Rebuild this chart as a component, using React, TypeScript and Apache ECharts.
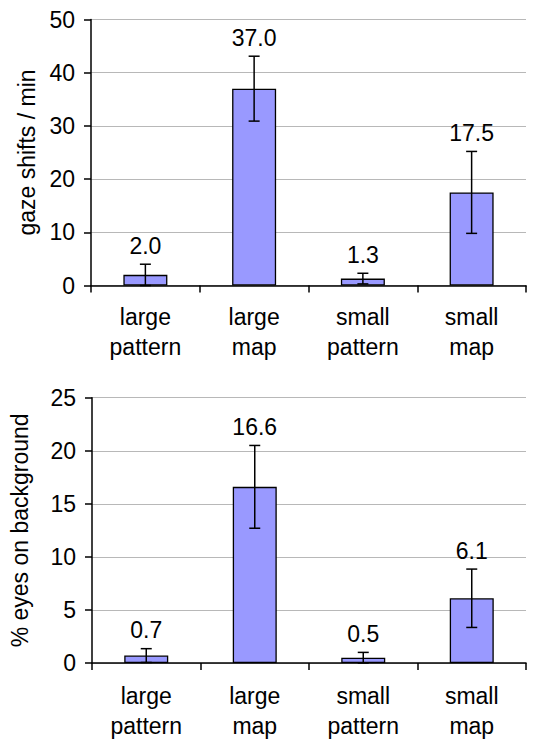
import React, { useEffect, useRef } from "react";
import * as echarts from "echarts";

const categories = ["large\npattern", "large\nmap", "small\npattern", "small\nmap"];
const gazeMeans = [2.0, 37.0, 1.3, 17.5];
const gazeErr = [2.0, 6.1, 1.0, 7.7];
const bgMeans = [0.7, 16.6, 0.5, 6.1];
const bgErr = [0.65, 3.9, 0.5, 2.75];
const gazeTicks = { min: 0, max: 50, interval: 10 };
const bgTicks = { min: 0, max: 25, interval: 5 };

const FONT = "Liberation Sans, Arial, sans-serif";
const FS = 23;

function errRender(params: any, api: any) {
  const x = api.value(0);
  const mean = api.value(1);
  const err = api.value(2);
  const top = api.coord([x, mean + err]);
  const bot = api.coord([x, Math.max(0, mean - err)]);
  const cap = 5.5;
  const ls = { stroke: "#000", lineWidth: 1.5 };
  return {
    type: "group",
    children: [
      { type: "line", shape: { x1: top[0], y1: top[1], x2: bot[0], y2: bot[1] }, style: ls },
      { type: "line", shape: { x1: top[0] - cap, y1: top[1], x2: top[0] + cap, y2: top[1] }, style: ls },
      { type: "line", shape: { x1: bot[0] - cap, y1: bot[1], x2: bot[0] + cap, y2: bot[1] }, style: ls },
      {
        type: "text",
        style: {
          text: mean.toFixed(1),
          x: top[0],
          y: top[1] - 7,
          align: "center",
          verticalAlign: "bottom",
          font: `${FS}px ${FONT}`,
          fill: "#000",
        },
      },
    ],
  };
}

export default function App() {
  const ref = useRef<HTMLDivElement>(null);
  useEffect(() => {
    if (!ref.current) return;
    const chart = echarts.init(ref.current, null, { renderer: "svg" });
    const yAxisBase = (name: string, ticks: any, gap: number) => ({
      type: "value",
      ...ticks,
      name,
      nameLocation: "middle",
      nameGap: gap,
      nameTextStyle: { fontSize: FS, color: "#000", fontFamily: FONT },
      axisLine: { show: true, lineStyle: { color: "#000", width: 1.5 } },
      axisTick: { show: true, length: 7, lineStyle: { color: "#000", width: 1.5 } },
      axisLabel: { fontSize: FS, color: "#000", fontFamily: FONT, margin: 16 },
      splitLine: { show: true, lineStyle: { color: "#b8b8b8", width: 1 } },
    });
    const xAxisBase = (gridIndex: number, margin: number, lh: number) => ({
      type: "category",
      gridIndex,
      data: categories,
      axisLine: { show: true, lineStyle: { color: "#000", width: 1.5 } },
      axisTick: { show: true, length: 7, lineStyle: { color: "#000", width: 1.5 } },
      axisLabel: { fontSize: FS, color: "#000", fontFamily: FONT, margin, lineHeight: lh, interval: 0 },
      splitLine: { show: false },
    });
    const barStyle = { color: "#9999ff", borderColor: "#000", borderWidth: 1.3 };
    chart.setOption({
      animation: false,
      backgroundColor: "#fff",
      grid: [
        { left: 91, right: 7, top: 19.5, bottom: 455.5 },
        { left: 91, right: 7, top: 397.7, bottom: 75 },
      ],
      xAxis: [xAxisBase(0, 16, 30), xAxisBase(1, 18, 30)],
      yAxis: [
        { ...yAxisBase("gaze shifts / min", gazeTicks, 51), gridIndex: 0 },
        { ...yAxisBase("% eyes on background", bgTicks, 61), gridIndex: 1 },
      ],
      series: [
        { type: "bar", xAxisIndex: 0, yAxisIndex: 0, data: gazeMeans, barWidth: 44, itemStyle: barStyle },
        { type: "bar", xAxisIndex: 1, yAxisIndex: 1, data: bgMeans, barWidth: 44, itemStyle: barStyle },
        {
          type: "custom",
          xAxisIndex: 0,
          yAxisIndex: 0,
          renderItem: errRender,
          data: gazeMeans.map((m, i) => [i, m, gazeErr[i]]),
          z: 5,
        },
        {
          type: "custom",
          xAxisIndex: 1,
          yAxisIndex: 1,
          renderItem: errRender,
          data: bgMeans.map((m, i) => [i, m, bgErr[i]]),
          z: 5,
        },
      ],
    });
    return () => chart.dispose();
  }, []);
  return <div ref={ref} style={{ position: "fixed", left: 0, top: 0, width: 533, height: 741 }} />;
}
